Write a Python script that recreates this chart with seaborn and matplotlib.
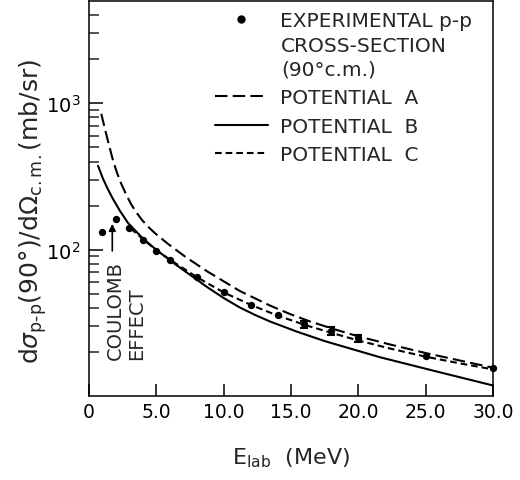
import matplotlib
matplotlib.use("Agg")
import matplotlib.pyplot as plt
import numpy as np
import pandas as pd
import seaborn as sns
from matplotlib.lines import Line2D
from matplotlib.ticker import FixedLocator, NullFormatter

# ---- data ----
exp_energy = [1, 2, 3, 4, 5, 6, 8, 10, 12, 14, 16, 18, 20, 25, 30]
exp_sigma = [131, 162, 141, 117, 98, 85, 64.7, 51, 42, 36, 31, 27.9, 24.8, 18.8, 15.5]
err_energy = [16, 18, 20]
err_sigma = [31, 27.9, 24.8]
err_size = [1.8, 1.6, 1.4]

potA_energy = [0.91, 1.19, 1.49, 1.78, 2.08, 2.38, 2.75, 3.12, 3.49, 3.94, 4.38, 4.90,
               5.87, 7.13, 8.76, 11.21, 13.44, 14.93, 16.41, 18.27, 19.90, 22.35,
               24.95, 30.0]
potA_sigma = [848, 664, 516, 408, 335, 284, 239, 205, 181, 159.4, 143.7, 129.5,
              109.4, 89.7, 71.2, 52.1, 41.5, 36.3, 32.3, 28.5, 25.7, 22.5,
              19.7, 15.6]

potB_energy = [0.67, 1.04, 1.41, 1.78, 2.30, 2.90, 4.01, 4.98, 6.24, 8.76, 10.02, 11.21,
               12.33, 13.44, 15.45, 17.52, 21.61, 25.69, 30.0]
potB_sigma = [374, 305, 258, 222, 184, 152, 119, 100, 81.5, 55.6, 46.6, 40.2,
              35.8, 32.3, 27.5, 23.7, 18.4, 14.8, 11.8]

potC_energy = [3.10, 4.03, 5.03, 6.10, 8.05, 10.02, 12.03, 13.98, 16.17, 17.96, 19.89,
               22.36, 24.95, 27.55, 30.0]
potC_sigma = [139.6, 117.4, 98.7, 84.4, 64.5, 50.9, 41.9, 35.5, 30.3, 27.1, 24.1,
              21.1, 18.6, 16.7, 15.2]

x_ticks = [0, 5, 10, 15, 20, 25, 30]
x_ticklabels = ["0", "5.0", "10.0", "15.0", "20.0", "25.0", "30.0"]
y_ticks = [100, 1000]
y_ticklabels = [r"$10^{2}$", r"$10^{3}$"]

legend_exp = ["EXPERIMENTAL p-p", "CROSS-SECTION", "(90°c.m.)"]
legend_pot = ["POTENTIAL  A", "POTENTIAL  B", "POTENTIAL  C"]

# ---- style ----
sns.set_theme(style="ticks")
plt.rcParams["font.family"] = ["DejaVu Sans"]
plt.rcParams["axes.linewidth"] = 1.1
plt.rcParams["mathtext.fontset"] = "dejavusans"

FS = 14
LFS = 14.5
fig = plt.figure(figsize=(5.2, 4.81), dpi=100)
ax = fig.add_axes([89 / 520, 1 - 397 / 481, 404 / 520, 395 / 481])
ax.set_yscale("log")

dashA = (0, (6, 2.5))
dashC = (0, (3.2, 1.9))

sns.lineplot(x=potA_energy, y=potA_sigma, ax=ax, color="black", lw=1.5, linestyle=dashA)
sns.lineplot(x=potB_energy, y=potB_sigma, ax=ax, color="black", lw=1.5, linestyle="-")
sns.lineplot(x=potC_energy, y=potC_sigma, ax=ax, color="black", lw=1.5, linestyle=dashC)
sns.scatterplot(x=exp_energy, y=exp_sigma, ax=ax, color="black", s=28,
                edgecolor="black", linewidth=0, clip_on=False, zorder=5)
ax.errorbar(err_energy, err_sigma, yerr=err_size, fmt="none", ecolor="black",
            elinewidth=1.5, capsize=3, capthick=1.5)

ax.set_xlim(0, 30)
ax.set_ylim(10, 5000)

ax.xaxis.set_major_locator(FixedLocator(x_ticks))
ax.set_xticklabels(x_ticklabels)
ax.yaxis.set_major_locator(FixedLocator(y_ticks))
ax.set_yticklabels(y_ticklabels)
minor = [m * d for d in (10, 100, 1000) for m in range(2, 10) if m * d < 5000]
ax.yaxis.set_minor_locator(FixedLocator(minor))
ax.yaxis.set_minor_formatter(NullFormatter())
ax.xaxis.set_minor_locator(FixedLocator([]))

ax.tick_params(axis="x", which="major", direction="in", length=8.5, width=1.1,
               labelsize=13.5, pad=4, colors="black")
ax.tick_params(axis="y", which="major", direction="in", length=10, width=1.1,
               labelsize=14, pad=6, colors="black")
ax.tick_params(axis="y", which="minor", direction="in", length=7, width=1.1)
for s in ax.spines.values():
    s.set_color("black")

ax.set_xlabel(r"E$_{\mathrm{lab}}$  (MeV)", fontsize=16, labelpad=18)
ax.set_ylabel("d$\\sigma_{\\mathrm{p\u2010p}}$(90°)/d$\\Omega_{\\mathrm{c.m.}}$(mb/sr)",
              fontsize=18)
ax.yaxis.set_label_coords(-0.10, 0.47)

# ---- legends ----
h1 = [Line2D([], [], marker="o", color="black", ls="none", markersize=5)]
leg1 = ax.legend(h1, [legend_exp[0]], loc="upper left",
                 bbox_to_anchor=(215 / 520, 1 - 12 / 481), bbox_transform=fig.transFigure,
                 frameon=False, fontsize=LFS, borderpad=0, borderaxespad=0,
                 handlelength=2.62, handletextpad=0.62)
ax.add_artist(leg1)
h2 = [Line2D([], [], color="black", lw=1.5, ls=dashA),
      Line2D([], [], color="black", lw=1.5, ls="-"),
      Line2D([], [], color="black", lw=1.5, ls=dashC)]
ax.legend(h2, legend_pot, loc="upper left",
          bbox_to_anchor=(215 / 520, 1 - 89 / 481), bbox_transform=fig.transFigure,
          frameon=False, fontsize=LFS, borderpad=0, borderaxespad=0,
          handlelength=2.62, handletextpad=0.62, labelspacing=0.48)
ax.text(281 / 520, 1 - 47 / 481, legend_exp[1], transform=fig.transFigure,
        ha="left", va="center", fontsize=LFS)
ax.text(281 / 520, 1 - 70 / 481, legend_exp[2], transform=fig.transFigure,
        ha="left", va="center", fontsize=LFS)

# ---- Coulomb annotation ----
ax.text(1.93, 17.9, "COULOMB", rotation=90, ha="center", va="bottom", fontsize=FS)
ax.text(3.5, 17.9, "EFFECT", rotation=90, ha="center", va="bottom", fontsize=FS)
ax.annotate("", xy=(1.73, 150), xytext=(1.73, 98),
            arrowprops=dict(arrowstyle="-|>", color="black", lw=1.2,
                            mutation_scale=10, shrinkA=0, shrinkB=0))

fig.savefig("out.png", dpi=100)
